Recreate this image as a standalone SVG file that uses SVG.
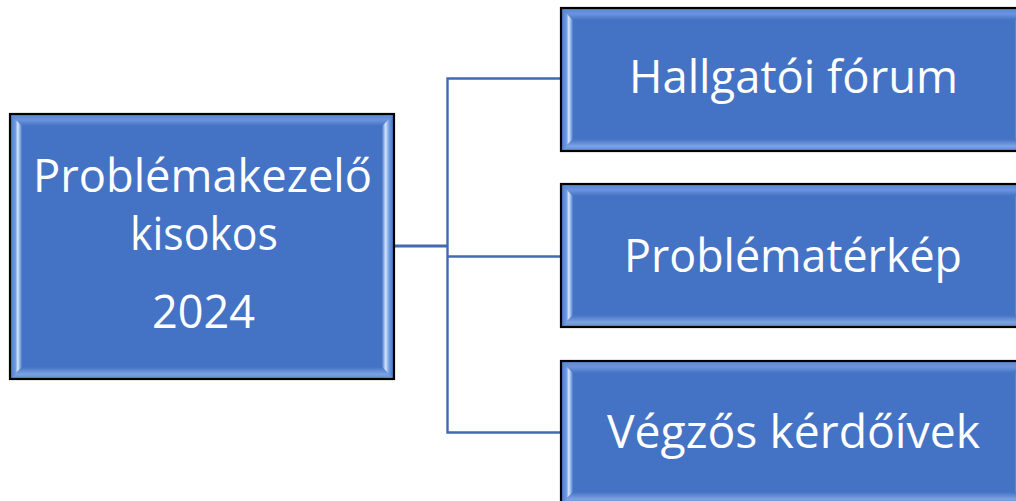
<svg xmlns="http://www.w3.org/2000/svg" width="1016" height="501" viewBox="0 0 1016 501">
<defs>
<style>
.main{fill:#4472C4}
.edge{fill:none;stroke:#000;stroke-width:2.2}
.conn{fill:none;stroke:#4169B4;stroke-width:2.4}
.t{font-family:"Open Sans","Noto Sans","Liberation Sans",sans-serif;fill:#fff;font-size:46.5px;text-anchor:middle}
</style>
<linearGradient id="gl" x1="0" y1="0" x2="1" y2="0">
<stop offset="0" stop-color="#4a7acb"/><stop offset="0.45" stop-color="#6f9ae0"/><stop offset="0.65" stop-color="#d3e6ff"/><stop offset="1" stop-color="#4a78c8"/>
</linearGradient>
<linearGradient id="gr" x1="1" y1="0" x2="0" y2="0">
<stop offset="0" stop-color="#3f6cbc"/><stop offset="0.4" stop-color="#6f9ae0"/><stop offset="0.7" stop-color="#cfe3ff"/><stop offset="1" stop-color="#4a78c8"/>
</linearGradient>
<linearGradient id="gt" x1="0" y1="0" x2="0" y2="1">
<stop offset="0" stop-color="#5a87d4"/><stop offset="0.5" stop-color="#6a94dc"/><stop offset="1" stop-color="#4472C4"/>
</linearGradient>
<linearGradient id="gb" x1="0" y1="1" x2="0" y2="0">
<stop offset="0" stop-color="#5b88d3"/><stop offset="0.4" stop-color="#7ca3e2"/><stop offset="1" stop-color="#4472C4"/>
</linearGradient>
</defs>
<g id="connectors">
<path class="conn" d="M394 246 H447.5" style="stroke-width:3"/>
<path class="conn" d="M560 78.5 H447.5 V432.5 H560"/>
<path class="conn" d="M447.5 256.5 H560"/>
</g>
<g id="node-left">
<rect class="main" x="10" y="114" width="384" height="265"/>
<polygon fill="url(#gt)" points="10,114 394,114 382,126 22,126"/>
<polygon fill="url(#gb)" points="10,379 394,379 382,367 22,367"/>
<polygon fill="url(#gl)" points="10,114 22,126 22,367 10,379"/>
<polygon fill="url(#gr)" points="394,114 382,126 382,367 394,379"/>
<rect class="edge" x="10" y="114" width="384" height="265"/>
<text class="t" x="202.5" y="192" textLength="339" lengthAdjust="spacingAndGlyphs">Problémakezelő</text>
<text class="t" x="204" y="250" textLength="148" lengthAdjust="spacingAndGlyphs">kisokos</text>
<text class="t" x="203.5" y="328" textLength="103" lengthAdjust="spacingAndGlyphs">2024</text>
</g>
<g id="node-forum">
<rect class="main" x="561" y="8" width="466" height="143"/>
<polygon fill="url(#gt)" points="561,8 1027,8 1015,20 573,20"/>
<polygon fill="url(#gb)" points="561,151 1027,151 1015,139 573,139"/>
<polygon fill="url(#gl)" points="561,8 573,20 573,139 561,151"/>
<polygon fill="url(#gr)" points="1027,8 1015,20 1015,139 1027,151"/>
<rect class="edge" x="561" y="8" width="466" height="143"/>
<text class="t" x="793.5" y="93" textLength="329" lengthAdjust="spacingAndGlyphs">Hallgatói fórum</text>
</g>
<g id="node-terkep">
<rect class="main" x="561" y="184" width="466" height="143"/>
<polygon fill="url(#gt)" points="561,184 1027,184 1015,196 573,196"/>
<polygon fill="url(#gb)" points="561,327 1027,327 1015,315 573,315"/>
<polygon fill="url(#gl)" points="561,184 573,196 573,315 561,327"/>
<polygon fill="url(#gr)" points="1027,184 1015,196 1015,315 1027,327"/>
<rect class="edge" x="561" y="184" width="466" height="143"/>
<text class="t" x="793" y="272" textLength="338" lengthAdjust="spacingAndGlyphs">Problématérkép</text>
</g>
<g id="node-kerdoiv">
<rect class="main" x="561" y="361" width="466" height="143"/>
<polygon fill="url(#gt)" points="561,361 1027,361 1015,373 573,373"/>
<polygon fill="url(#gb)" points="561,504 1027,504 1015,492 573,492"/>
<polygon fill="url(#gl)" points="561,361 573,373 573,492 561,504"/>
<polygon fill="url(#gr)" points="1027,361 1015,373 1015,492 1027,504"/>
<rect class="edge" x="561" y="361" width="466" height="143"/>
<text class="t" x="793.5" y="447.5" textLength="373" lengthAdjust="spacingAndGlyphs">Végzős kérdőívek</text>
</g>
</svg>
